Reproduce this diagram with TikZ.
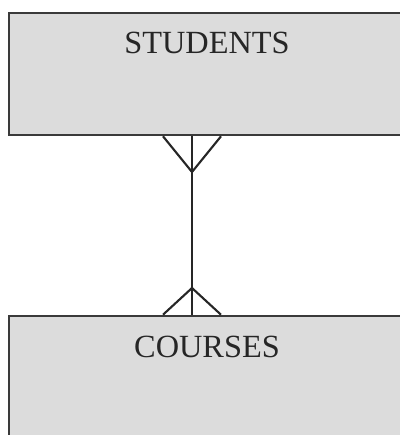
\documentclass[tikz,border=0pt]{standalone}
\usepackage{fontspec}
\setmainfont{Liberation Serif}
\usetikzlibrary{positioning}

\definecolor{boxfill}{HTML}{DCDCDC}
\definecolor{boxline}{HTML}{3A3A3A}

\begin{document}
\begin{tikzpicture}[x=0.025cm, y=-0.025cm,
    entity/.style={draw=boxline, line width=1.8pt, fill=boxfill, inner sep=0pt},
    title/.style={font=\fontsize{23}{26}\selectfont, text=black!85},
    link/.style={draw=black!85, line width=1.5pt}]
    \useasboundingbox (0,0) rectangle (400,435);
    \clip (0,0) rectangle (400,435);

    \node[entity, minimum width=10.3cm, minimum height=3.05cm] (students) at (215,74) {};
    \node[entity, minimum width=10.3cm, minimum height=3.6cm] (courses) at (215,388) {};

    \node[title, below=0.38cm of students.north, xshift=-0.2cm] (studentsname) {STUDENTS};
    \node[title, below=0.42cm of courses.north, xshift=-0.2cm] (coursesname) {COURSES};

    % many-to-many link
    \draw[link] (192,0 |- students.south) -- (192,0 |- courses.north);
    \draw[link] (163,0 |- students.south) -- (192,172) -- (221,0 |- students.south);
    \draw[link] (163,0 |- courses.north) -- (192,288) -- (221,0 |- courses.north);
  \end{tikzpicture}
\end{document}
